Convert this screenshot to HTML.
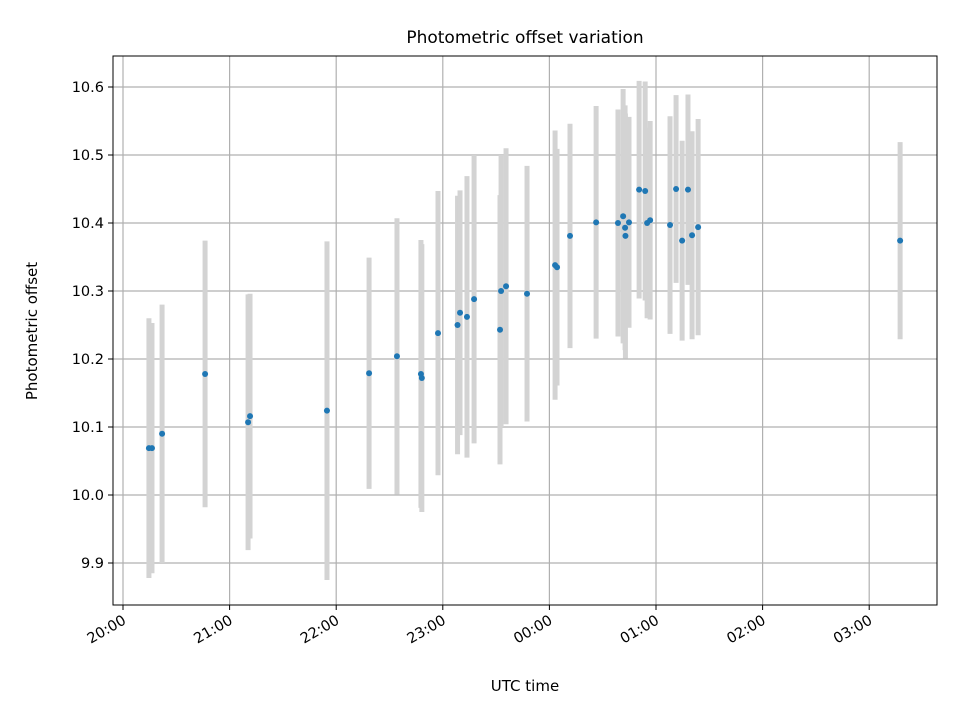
<!DOCTYPE html>
<html><head><meta charset="utf-8"><style>
body{margin:0;background:#fff;}
svg text{font-family:"DejaVu Sans","Liberation Sans",sans-serif;fill:#000;}
</style></head><body>
<svg id="chart" width="960" height="720" xmlns="http://www.w3.org/2000/svg">
<rect x="0" y="0" width="960" height="720" fill="#fff"/>
<g id="grid"></g><g id="bars"></g><g id="pts"></g><g id="axes"></g>
<text x="525" y="43" font-size="17" text-anchor="middle">Photometric offset variation</text>
<text x="525" y="691" font-size="15" text-anchor="middle">UTC time</text>
<text x="37" y="331" font-size="15" text-anchor="middle" transform="rotate(-90 37 331)">Photometric offset</text>
</svg>
<script>
const minutesAfter20 = [14.6,16.3,22,46.2,70.4,71.5,114.8,138.5,154.2,167.7,168.2,177.3,188.3,189.7,193.6,197.6,212.2,212.8,215.6,227.4,243.2,244.3,251.6,266.3,278.6,281.5,282.6,282.8,284.8,290.5,293.9,295,296.7,307.9,311.3,314.7,318,320.3,323.7,437.4];
const offsets = [10.069,10.069,10.090,10.178,10.107,10.116,10.124,10.179,10.204,10.178,10.172,10.238,10.250,10.268,10.262,10.288,10.243,10.300,10.307,10.296,10.338,10.335,10.381,10.401,10.400,10.410,10.393,10.381,10.401,10.449,10.447,10.400,10.404,10.397,10.450,10.374,10.449,10.382,10.394,10.374];
const errors = [0.191,0.184,0.190,0.196,0.188,0.180,0.249,0.170,0.203,0.197,0.197,0.209,0.190,0.180,0.207,0.212,0.198,0.200,0.203,0.188,0.198,0.174,0.165,0.171,0.167,0.187,0.180,0.180,0.155,0.160,0.161,0.140,0.146,0.160,0.138,0.147,0.140,0.153,0.159,0.145];
const yTicks = [9.9,10.0,10.1,10.2,10.3,10.4,10.5,10.6];
const xTickMinutes = [0,60,120,180,240,300,360,420];
const xTickLabels = ["20:00","21:00","22:00","23:00","00:00","01:00","02:00","03:00"];

const L=113,R=937,T=56,B=605;
const xs=m=>123+m*106.6/60;
const ys=v=>87+(10.6-v)*680;
const NS="http://www.w3.org/2000/svg";
function mk(tag,attrs,parent){const e=document.createElementNS(NS,tag);for(const k in attrs)e.setAttribute(k,attrs[k]);document.getElementById(parent).appendChild(e);return e;}

yTicks.forEach((v,i)=>{
  const y=ys(v);
  const g=mk('line',{x1:L,x2:R,y1:y,y2:y,stroke:'#b0b0b0','stroke-width':1.2},'grid');
  
  
  const t=mk('line',{x1:L-5,x2:L,y1:y,y2:y,stroke:'#000','stroke-width':1},'axes');
  
  
  const tx=mk('text',{x:L-9,y:y+5,'font-size':14.5,'text-anchor':'end'},'axes');
  tx.textContent=v.toFixed(1);
  
  
});
xTickMinutes.forEach((m,i)=>{
  const x=xs(m);
  const g=mk('line',{x1:x,x2:x,y1:T,y2:B,stroke:'#b0b0b0','stroke-width':1.2},'grid');
  
  
  const t=mk('line',{x1:x,x2:x,y1:B,y2:B+5,stroke:'#000','stroke-width':1},'axes');
  
  
  const tx=mk('text',{x:x+4,y:B+18,'font-size':14.5,'text-anchor':'end',transform:`rotate(-30 ${x+4} ${B+18})`},'axes');
  tx.textContent=xTickLabels[i];
  
  
});
const fr=mk('rect',{x:L,y:T,width:R-L,height:B-T,fill:'none',stroke:'#000','stroke-width':1},'axes');



minutesAfter20.forEach((m,i)=>{
  const x=xs(m);
  const b=mk('line',{x1:x,x2:x,y1:ys(offsets[i]+errors[i]),y2:ys(offsets[i]-errors[i]),stroke:'#d3d3d3','stroke-width':5},'bars');
  
  
  const p=mk('circle',{cx:x,cy:ys(offsets[i]),r:3,fill:'#1f77b4'},'pts');
  
  
});
</script>
</body></html>
